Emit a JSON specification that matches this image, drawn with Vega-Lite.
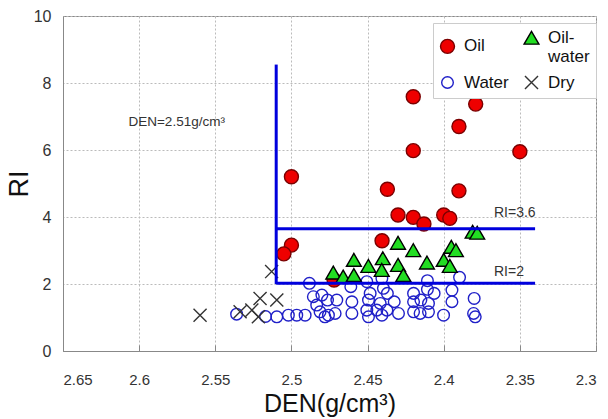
{
  "$schema": "https://vega.github.io/schema/vega-lite/v6.json",
  "width": 533,
  "height": 335,
  "autosize": {"type": "none"},
  "padding": {"left": 63, "top": 16, "right": 12, "bottom": 68},
  "background": "white",
  "config": {
    "view": {"stroke": "#888", "strokeWidth": 1},
    "font": "Liberation Sans"
  },
  "datasets": {
    "pts": [
      {"den": 2.5096, "ri": 1.02, "type": "Water"},
      {"den": 2.502, "ri": 1.07, "type": "Water"},
      {"den": 2.4965, "ri": 1.07, "type": "Water"},
      {"den": 2.491, "ri": 1.07, "type": "Water"},
      {"den": 2.4882, "ri": 2.02, "type": "Water"},
      {"den": 2.4834, "ri": 1.37, "type": "Water"},
      {"den": 2.4812, "ri": 1.17, "type": "Water"},
      {"den": 2.478, "ri": 1.02, "type": "Water"},
      {"den": 2.4856, "ri": 1.62, "type": "Water"},
      {"den": 2.48, "ri": 1.67, "type": "Water"},
      {"den": 2.4763, "ri": 1.52, "type": "Water"},
      {"den": 2.4702, "ri": 1.52, "type": "Water"},
      {"den": 2.4757, "ri": 1.07, "type": "Water"},
      {"den": 2.4713, "ri": 1.12, "type": "Water"},
      {"den": 2.461, "ri": 1.92, "type": "Water"},
      {"den": 2.4603, "ri": 1.47, "type": "Water"},
      {"den": 2.4603, "ri": 1.12, "type": "Water"},
      {"den": 2.4505, "ri": 2.07, "type": "Water"},
      {"den": 2.4483, "ri": 1.72, "type": "Water"},
      {"den": 2.4494, "ri": 1.52, "type": "Water"},
      {"den": 2.4505, "ri": 1.22, "type": "Water"},
      {"den": 2.4494, "ri": 1.02, "type": "Water"},
      {"den": 2.4406, "ri": 2.17, "type": "Water"},
      {"den": 2.4396, "ri": 1.87, "type": "Water"},
      {"den": 2.437, "ri": 1.72, "type": "Water"},
      {"den": 2.4417, "ri": 1.42, "type": "Water"},
      {"den": 2.4439, "ri": 1.22, "type": "Water"},
      {"den": 2.4406, "ri": 1.07, "type": "Water"},
      {"den": 2.4373, "ri": 1.22, "type": "Water"},
      {"den": 2.4325, "ri": 1.47, "type": "Water"},
      {"den": 2.4297, "ri": 1.12, "type": "Water"},
      {"den": 2.4198, "ri": 1.72, "type": "Water"},
      {"den": 2.4198, "ri": 1.47, "type": "Water"},
      {"den": 2.4198, "ri": 1.17, "type": "Water"},
      {"den": 2.415, "ri": 1.52, "type": "Water"},
      {"den": 2.4155, "ri": 1.12, "type": "Water"},
      {"den": 2.4107, "ri": 2.1, "type": "Water"},
      {"den": 2.4107, "ri": 1.84, "type": "Water"},
      {"den": 2.4063, "ri": 1.72, "type": "Water"},
      {"den": 2.41, "ri": 1.42, "type": "Water"},
      {"den": 2.41, "ri": 1.17, "type": "Water"},
      {"den": 2.4001, "ri": 1.07, "type": "Water"},
      {"den": 2.3946, "ri": 1.82, "type": "Water"},
      {"den": 2.3946, "ri": 1.47, "type": "Water"},
      {"den": 2.3896, "ri": 2.2, "type": "Water"},
      {"den": 2.38, "ri": 1.57, "type": "Water"},
      {"den": 2.3804, "ri": 1.12, "type": "Water"},
      {"den": 2.3793, "ri": 1.02, "type": "Water"},
      {"den": 2.536, "ri": 1.1, "type": "Water"},
      {"den": 2.517, "ri": 1.03, "type": "Water"},
      {"den": 2.513, "ri": 2.37, "type": "Dry"},
      {"den": 2.56, "ri": 1.07, "type": "Dry"},
      {"den": 2.5337, "ri": 1.17, "type": "Dry"},
      {"den": 2.526, "ri": 1.22, "type": "Dry"},
      {"den": 2.5206, "ri": 1.57, "type": "Dry"},
      {"den": 2.5096, "ri": 1.52, "type": "Dry"},
      {"den": 2.5217, "ri": 1.02, "type": "Dry"},
      {"den": 2.42, "ri": 7.59, "type": "Oil"},
      {"den": 2.379, "ri": 7.37, "type": "Oil"},
      {"den": 2.39, "ri": 6.7, "type": "Oil"},
      {"den": 2.42, "ri": 5.98, "type": "Oil"},
      {"den": 2.35, "ri": 5.95, "type": "Oil"},
      {"den": 2.5, "ri": 5.2, "type": "Oil"},
      {"den": 2.437, "ri": 4.83, "type": "Oil"},
      {"den": 2.39, "ri": 4.78, "type": "Oil"},
      {"den": 2.43, "ri": 4.06, "type": "Oil"},
      {"den": 2.42, "ri": 3.99, "type": "Oil"},
      {"den": 2.413, "ri": 3.79, "type": "Oil"},
      {"den": 2.4, "ri": 4.06, "type": "Oil"},
      {"den": 2.396, "ri": 3.96, "type": "Oil"},
      {"den": 2.4405, "ri": 3.29, "type": "Oil"},
      {"den": 2.5, "ri": 3.16, "type": "Oil"},
      {"den": 2.505, "ri": 2.9, "type": "Oil"},
      {"den": 2.472, "ri": 2.12, "type": "Oil"},
      {"den": 2.43, "ri": 3.23, "type": "Oil-water"},
      {"den": 2.42, "ri": 3.01, "type": "Oil-water"},
      {"den": 2.44, "ri": 2.77, "type": "Oil-water"},
      {"den": 2.459, "ri": 2.72, "type": "Oil-water"},
      {"den": 2.4495, "ri": 2.54, "type": "Oil-water"},
      {"den": 2.43, "ri": 2.57, "type": "Oil-water"},
      {"den": 2.411, "ri": 2.64, "type": "Oil-water"},
      {"den": 2.4, "ri": 2.72, "type": "Oil-water"},
      {"den": 2.395, "ri": 3.11, "type": "Oil-water"},
      {"den": 2.392, "ri": 3.01, "type": "Oil-water"},
      {"den": 2.396, "ri": 2.54, "type": "Oil-water"},
      {"den": 2.4725, "ri": 2.34, "type": "Oil-water"},
      {"den": 2.466, "ri": 2.22, "type": "Oil-water"},
      {"den": 2.459, "ri": 2.27, "type": "Oil-water"},
      {"den": 2.4407, "ri": 2.42, "type": "Oil-water"},
      {"den": 2.4265, "ri": 2.27, "type": "Oil-water"},
      {"den": 2.381, "ri": 3.56, "type": "Oil-water"},
      {"den": 2.378, "ri": 3.53, "type": "Oil-water"}
    ],
    "lines": [
      {"den": 2.51, "den2": 2.51, "ri": 2.0, "ri2": 8.55},
      {"den": 2.51, "den2": 2.34, "ri": 3.65, "ri2": 3.65},
      {"den": 2.51, "den2": 2.34, "ri": 2.02, "ri2": 2.02}
    ],
    "notes": [
      {"den": 2.367, "ri": 4.12, "label": "RI=3.6"},
      {"den": 2.367, "ri": 2.36, "label": "RI=2"}
    ],
    "note2": [
      {"den": 2.607, "ri": 6.84, "label": "DEN=2.51g/cm³"}
    ]
  },
  "layer": [
    {
      "data": {"name": "pts"},
      "mark": {"type": "point", "filled": true, "strokeWidth": 1.4, "opacity": 1},
      "encoding": {
        "x": {
          "field": "den", "type": "quantitative",
          "scale": {"domain": [2.3, 2.65], "reverse": true, "nice": false, "zero": false},
          "axis": {
            "title": "DEN(g/cm³)",
            "values": [2.3, 2.35, 2.4, 2.45, 2.5, 2.55, 2.6, 2.65],
            "format": ".2~f",
            "labelFontSize": 15,
            "labelColor": "#333",
            "labelPadding": 27,
            "tickSize": -6,
            "tickColor": "#888",
            "domainColor": "#888",
            "gridColor": "#bbb",
            "gridDash": [2, 2],
            "titleFontSize": 25,
            "titleFontWeight": "normal",
            "titleColor": "#111",
            "titlePadding": 4
          }
        },
        "y": {
          "field": "ri", "type": "quantitative",
          "scale": {"domain": [0, 10], "nice": false},
          "axis": {
            "title": "RI",
            "values": [0, 2, 4, 6, 8, 10],
            "labelFontSize": 16,
            "labelColor": "#333",
            "labelPadding": 12,
            "tickSize": 0,
            "domainColor": "#888",
            "gridColor": "#bbb",
            "gridDash": [2, 2],
            "titleFontSize": 27,
            "titleFontWeight": "normal",
            "titleColor": "#111",
            "titlePadding": 0
          }
        },
        "shape": {
          "field": "type", "type": "nominal",
          "scale": {
            "domain": ["Oil", "Water", "Oil-water", "Dry"],
            "range": ["circle", "circle", "triangle-up", "M-0.9,-0.9L0.9,0.9M-0.9,0.9L0.9,-0.9"]
          },
          "legend": {
            "title": null,
            "orient": "none",
            "legendX": 370,
            "legendY": 7,
            "columns": 2,
            "labelFontSize": 17,
            "labelColor": "#111",
            "labelOffset": 8,
            "labelExpr": "datum.label == 'Oil-water' ? ['Oil-', 'water'] : datum.label",
            "strokeColor": "#ccc",
            "fillColor": "white",
            "padding": 6,
            "rowPadding": 8,
            "columnPadding": 12,
            "symbolStrokeWidth": 1.4
          }
        },
        "fill": {
          "field": "type", "type": "nominal",
          "scale": {
            "domain": ["Oil", "Water", "Oil-water", "Dry"],
            "range": ["#ee0000", "transparent", "#22dd22", "transparent"]
          }
        },
        "stroke": {
          "field": "type", "type": "nominal",
          "scale": {
            "domain": ["Oil", "Water", "Oil-water", "Dry"],
            "range": ["#7a0000", "#2020c8", "#000000", "#333333"]
          }
        },
        "size": {
          "field": "type", "type": "nominal",
          "scale": {
            "type": "ordinal",
            "domain": ["Oil", "Water", "Oil-water", "Dry"],
            "range": [196, 135, 220, 210]
          }
        }
      }
    },
    {
      "data": {"name": "lines"},
      "mark": {"type": "rule", "color": "#0000dd", "strokeWidth": 3},
      "encoding": {
        "x": {"field": "den", "type": "quantitative"},
        "x2": {"field": "den2"},
        "y": {"field": "ri", "type": "quantitative"},
        "y2": {"field": "ri2"}
      }
    },
    {
      "data": {"name": "notes"},
      "mark": {"type": "text", "align": "left", "baseline": "middle", "color": "#333", "fontSize": 14},
      "encoding": {
        "x": {"field": "den", "type": "quantitative"},
        "y": {"field": "ri", "type": "quantitative"},
        "text": {"field": "label"}
      }
    },
    {
      "data": {"name": "note2"},
      "mark": {"type": "text", "align": "left", "baseline": "middle", "color": "#333", "fontSize": 13.5},
      "encoding": {
        "x": {"field": "den", "type": "quantitative"},
        "y": {"field": "ri", "type": "quantitative"},
        "text": {"field": "label"}
      }
    }
  ]
}
